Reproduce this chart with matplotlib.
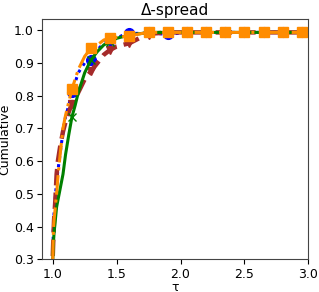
import numpy as np
import matplotlib
matplotlib.use("Agg")
import matplotlib.pyplot as plt

# tau grid and cumulative fractions
tau = [1.0, 1.005, 1.01, 1.02, 1.03, 1.04, 1.06, 1.08, 1.10, 1.125, 1.15,
       1.175, 1.2, 1.25, 1.3, 1.35, 1.4, 1.45, 1.5, 1.55, 1.6, 1.7, 1.75,
       1.8, 1.9, 2.05, 2.2, 2.35, 2.5, 2.65, 2.8, 2.95, 3.0]

blue = [0.31, 0.40, 0.44, 0.49, 0.54, 0.57, 0.63, 0.69, 0.735, 0.77, 0.81,
        0.84, 0.87, 0.90, 0.91, 0.94, 0.96, 0.97, 0.975, 0.985, 0.99, 0.99, 0.993,
        0.99, 0.987, 0.993, 0.993, 0.993, 0.993, 0.993, 0.993, 0.993, 0.993]
brown = [0.31, 0.37, 0.42, 0.48, 0.56, 0.60, 0.65, 0.69, 0.72, 0.75, 0.775,
         0.79, 0.81, 0.85, 0.875, 0.90, 0.925, 0.94, 0.95, 0.955, 0.96, 0.98, 0.985,
         0.99, 0.993, 0.993, 0.993, 0.993, 0.993, 0.993, 0.993, 0.993, 0.993]
green = [0.30, 0.35, 0.38, 0.42, 0.46, 0.48, 0.52, 0.56, 0.62, 0.68, 0.735,
         0.77, 0.81, 0.87, 0.91, 0.935, 0.955, 0.965, 0.975, 0.98, 0.985, 0.99, 0.993,
         0.993, 0.993, 0.993, 0.993, 0.993, 0.993, 0.993, 0.993, 0.993, 0.993]
orange = [0.30, 0.39, 0.42, 0.46, 0.50, 0.55, 0.63, 0.70, 0.74, 0.78, 0.82,
          0.85, 0.88, 0.92, 0.945, 0.955, 0.97, 0.975, 0.978, 0.98, 0.982, 0.99, 0.993,
          0.993, 0.993, 0.993, 0.993, 0.993, 0.993, 0.993, 0.993, 0.993, 0.993]

mark_tau = [1.15, 1.3, 1.45, 1.6, 1.75, 1.9, 2.05, 2.2, 2.35, 2.5, 2.65, 2.8, 2.95]

tau = np.array(tau)
marks = [int(np.argmin(np.abs(tau - m))) for m in mark_tau]

fig = plt.figure(figsize=(3.19, 2.92), dpi=100)
ax = fig.add_axes([0.1326, 0.112, 0.834, 0.823])

ax.plot(tau, blue, color="blue", linestyle=":", linewidth=2.2,
        marker="o", markersize=7, markevery=marks)
ax.plot(tau, brown, color="brown", linestyle="--", linewidth=3.2,
        marker="v", markersize=6, markevery=marks)
ax.plot(tau, green, color="green", linestyle="-", linewidth=2.2,
        marker="x", markersize=6, markevery=marks)
ax.plot(tau, orange, color="darkorange", linestyle="-.", linewidth=2.2,
        marker="s", markersize=7, markevery=marks)

ax.set_xlim(0.918, 3.0)
ax.set_ylim(0.3, 1.034)
ax.set_xticks([1.0, 1.5, 2.0, 2.5, 3.0])
ax.set_yticks([0.3, 0.4, 0.5, 0.6, 0.7, 0.8, 0.9, 1.0])
ax.tick_params(labelsize=9, length=3.5, pad=2.5)
for s in ax.spines.values():
    s.set_color("#444444")
ax.set_xlabel("τ", fontsize=9, labelpad=0)
ax.set_ylabel("Cumulative", fontsize=9, labelpad=2)
ax.set_title("Δ-spread", fontsize=11, pad=3)

fig.savefig("out.png", dpi=100)
